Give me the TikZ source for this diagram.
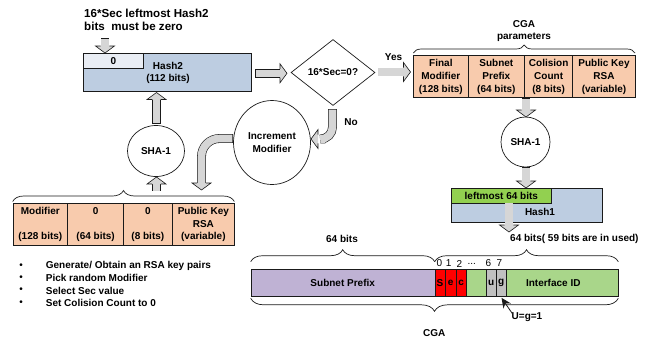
\documentclass[tikz,border=0pt]{standalone}
\usepackage{fontspec}
\setmainfont{Liberation Sans}
\usetikzlibrary{calc,shapes.geometric,decorations.pathreplacing,arrows.meta}

\definecolor{hashblue}{HTML}{BDCDE1}
\definecolor{zerofill}{HTML}{E9EDF4}
\definecolor{peach}{HTML}{F8CBAD}
\definecolor{leafgreen}{HTML}{92D050}
\definecolor{idgreen}{HTML}{A9D68A}
\definecolor{prefixpurple}{HTML}{BFB2D4}
\definecolor{bitred}{HTML}{FF0000}
\definecolor{bitgray}{HTML}{C0C0C0}
\definecolor{arrowgray}{HTML}{D6D6D6}
\definecolor{inkline}{HTML}{1A1A1A}

% block arrow head, drawn at the end of a shaft running from #1 to #2
\newcommand\blockhead[2]{%
  \path ($(#2)!7pt!(#1)$) coordinate (bh-neck) (#2) coordinate (bh-tip);
  \filldraw[arrowhead]
    ($(bh-neck)!4.4pt!90:(bh-tip)$) -- ($(bh-neck)!9.5pt!90:(bh-tip)$) --
    (bh-tip) --
    ($(bh-neck)!9.5pt!-90:(bh-tip)$) -- ($(bh-neck)!4.4pt!-90:(bh-tip)$);
}

\begin{document}
\begin{tikzpicture}[x=1pt,y=-1pt,
  txt/.style={font=\bfseries\fontsize{10}{12.3}\selectfont, align=center, inner sep=0pt},
  numtxt/.style={font=\fontsize{10}{12}\selectfont, inner sep=0pt},
  headtxt/.style={font=\bfseries\fontsize{11.6}{13.5}\selectfont, inner sep=0pt, anchor=west},
  box/.style={draw=inkline, line width=0.7pt, rectangle, inner sep=0pt},
  cell/.style={box, fill=peach, anchor=north west, minimum height=42.3pt,
    font=\bfseries\fontsize{10}{13}\selectfont, align=center},
  lcell/.style={box, fill=peach, anchor=north west, minimum height=41.7pt,
    font=\bfseries\fontsize{10}{12.2}\selectfont, align=center},
  bit/.style={box, anchor=north west, minimum height=26.7pt,
    font=\bfseries\fontsize{10}{12}\selectfont},
  roundel/.style={ellipse, draw=inkline, line width=0.7pt, fill=white, txt},
  arrowshaft/.style={draw=inkline, line width=0.6pt, double=arrowgray,
    double distance=7.6pt, line cap=rect, shorten <=4.4pt, shorten >=10pt},
  arrowhead/.style={draw=inkline, line width=0.6pt, fill=arrowgray, line join=miter},
  brace/.style={decorate, draw=inkline, line width=0.7pt},
]
\useasboundingbox (0,0) rectangle (652,341);

% ---------- Hash2 and its zero prefix ----------
\node[headtxt] (head1) at (84,13.3) {16*Sec leftmost Hash2};
\node[headtxt] (head2) at (84,26.8) {bits\ \ must be zero};

\node[box, fill=hashblue, minimum width=167.4pt, minimum height=37.4pt, anchor=north west] (hash2) at (83.3,53.3) {};
\node[box, fill=zerofill, minimum width=59.4pt, minimum height=15pt, anchor=north west, txt] (zero) at (83.3,53.3) {0};
\node[txt] (hash2lbl) at (168,72.6) {Hash2\\(112 bits)};

% ---------- decision ----------
\node[diamond, draw=inkline, line width=0.7pt, minimum width=84pt, minimum height=66pt, inner sep=0pt, txt] (test) at (333,72.5) {16*Sec=0?};
\node[txt] (yes) at (393.5,56.7) {Yes};
\node[txt] (no) at (351,122.3) {No};

% ---------- round boxes ----------
\node[roundel, minimum width=57pt, minimum height=51pt] (shaL) at (156,151) {SHA-1};
\node[roundel, minimum width=77pt, minimum height=84pt] (inc) at (272,142.5) {Increment\\Modifier};
\node[roundel, minimum width=49pt, minimum height=50pt] (shaR) at (525.5,142) {SHA-1};

% ---------- CGA parameters ----------
\node[cell, minimum width=54.4pt] (fm) at (413.3,55) {Final\\Modifier\\(128 bits)};
\node[cell, minimum width=56.6pt] (sp) at (467.7,55) {Subnet\\Prefix\\(64 bits)};
\node[cell, minimum width=48pt] (cc) at (524.3,55) {Colision\\Count\\(8 bits)};
\node[cell, minimum width=62.7pt] (pk) at (572.3,55) {Public Key\\RSA\\(variable)};
\draw[brace, decoration={brace, amplitude=8pt}] (413.3,53) -- (635,53);
\node[txt] (cgapar) at (524,31) {CGA\\parameters};

% ---------- starting parameters ----------
\node[lcell, minimum width=54.6pt] (m0) at (12.7,203.3) {Modifier\\[12.2pt](128 bits)};
\node[lcell, minimum width=56pt] (m1) at (67.3,203.3) {0\\[12.2pt](64 bits)};
\node[lcell, minimum width=48.4pt] (m2) at (123.3,203.3) {0\\[12.2pt](8 bits)};
\node[lcell, minimum width=62.6pt] (m3) at (171.7,203.3) {Public Key\\RSA\\(variable)};
\draw[brace, decoration={brace, amplitude=11pt}] (12.7,201.5) -- (234.3,201.5);

\node[txt, anchor=west] (s1) at (45.7,265.7) {Generate/ Obtain an RSA key pairs};
\node[txt, anchor=west] (s2) at (45.7,278.2) {Pick random Modifier};
\node[txt, anchor=west] (s3) at (45.7,290.5) {Select Sec value};
\node[txt, anchor=west] (s4) at (45.7,303.2) {Set Colision Count to 0};
\foreach \n in {1,...,4} \node[numtxt] (dot\n) at (s\n.west -| 21,0) {\textbullet};

% ---------- Hash1 ----------
\node[box, fill=hashblue, minimum width=151pt, minimum height=34pt, anchor=north west] (hash1) at (451,188) {};
\node[box, fill=leafgreen, minimum width=100pt, minimum height=15pt, anchor=north west, txt] (left64) at (451,188) {leftmost 64 bits};
\node[txt] (hash1lbl) at (540,211.5) {Hash1};

% ---------- resulting address ----------
\node[bit, fill=prefixpurple, minimum width=184pt] (prefix) at (250.7,269.3) {};
\node[bit, fill=idgreen, minimum width=152.3pt] (iid) at (466,269.3) {};
\node[bit, fill=bitred, minimum width=10pt] (bS) at (434.7,269.3) {S};
\node[bit, fill=bitred, minimum width=11pt] (be) at (444.7,269.3) {e};
\node[bit, fill=bitred, minimum width=10.3pt] (bc) at (455.7,269.3) {c};
\node[bit, fill=bitgray, minimum width=10pt] (bu) at (485.7,269.3) {u};
\node[bit, fill=bitgray, minimum width=10pt] (bg) at (495.7,269.3) {g};
\node[txt] (prefixlbl) at (342.7,282.7) {Subnet Prefix};
\node[txt] (iidlbl) at (553.3,282.7) {Interface ID};

\node[numtxt] (n0) at (439.3,263.5) {0};
\node[numtxt] (n1) at (448.6,263.5) {1};
\node[numtxt] (n2) at (459.3,263.5) {2};
\node[numtxt] (n3) at (471.7,263.5) {...};
\node[numtxt] (n6) at (488.3,263.5) {6};
\node[numtxt] (n7) at (499.3,263.5) {7};

\draw[brace, decoration={brace, amplitude=12pt}] (250.7,261.7) -- (434.7,261.7);
\draw[brace, decoration={brace, amplitude=12pt}] (434.7,261.7) -- (618.3,261.7);
\draw[brace, decoration={brace, amplitude=13pt, mirror}] (250.7,298.3) -- (618.3,298.3);
\node[txt] (lo64) at (342,239.3) {64 bits};
\node[txt, anchor=west] (hi64) at (510,239.3) {64 bits( 59 bits are in used)};
\node[txt] (cga) at (434.3,332.7) {CGA};

\node[txt, anchor=west] (ug) at (511.5,317.3) {U=g=1};
\coordinate (ugtip) at (501.5,297.8);
\draw[inkline, line width=0.8pt, -{Stealth[length=10pt,width=9pt]}] ($(ug.west)+(1,-3.5)$) -- (ugtip);

% ---------- block arrows ----------
\coordinate (a1t) at (105,38);   \coordinate (a1h) at (105,53);
\coordinate (a2t) at (156.5,124); \coordinate (a2h) at (156.5,92.5);
\coordinate (a3t) at (156.5,189); \coordinate (a3h) at (156.5,177);
\coordinate (a4t) at (255,73.3);  \coordinate (a4h) at (287,73.3);
\coordinate (a5t) at (377.5,72);  \coordinate (a5h) at (410.5,72);
\coordinate (a6t) at (526,98);    \coordinate (a6h) at (526,117);
\coordinate (a7t) at (526,167);   \coordinate (a7h) at (526,188);
\coordinate (a8t) at (509,202.5); \coordinate (a8h) at (509,232);
\coordinate (a9t) at (332.5,109); \coordinate (a9b) at (332.5,139); \coordinate (a9h) at (311,139);
\coordinate (a10t) at (233,138.5); \coordinate (a10b) at (201.5,138.5); \coordinate (a10h) at (201.5,190);

\foreach \a in {a1,a2,a3,a4,a5,a6,a7,a8}{
  \draw[arrowshaft] (\a t) -- (\a h);
  \blockhead{\a t}{\a h}
}
\draw[arrowshaft, rounded corners=12pt] (a9t) -- (a9b) -- (a9h);
\blockhead{a9b}{a9h}
\draw[arrowshaft, rounded corners=18pt] (a10t) -- (a10b) -- (a10h);
\blockhead{a10b}{a10h}
\end{tikzpicture}
\end{document}
